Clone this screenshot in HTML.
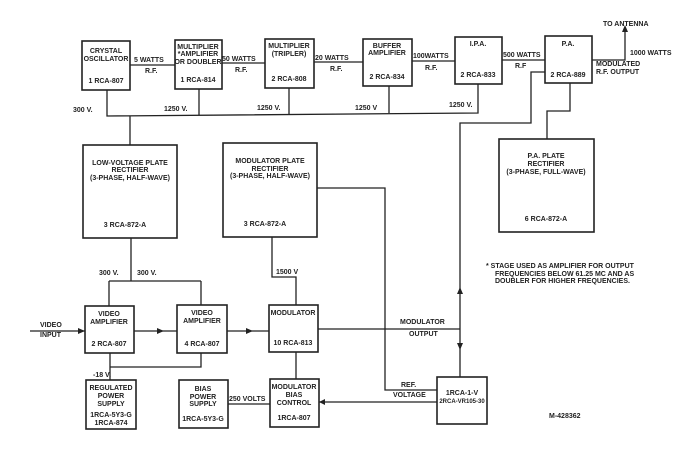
<!DOCTYPE html>
<html><head><meta charset="utf-8"><style>
html,body{margin:0;padding:0;background:#fff;}
svg{display:block;}
text{font-family:"Liberation Sans",sans-serif;font-weight:bold;font-size:7px;fill:#222;}
.b{fill:none;stroke:#222;stroke-width:1.6;}
.l{fill:none;stroke:#222;stroke-width:1.3;}
</style></head><body>
<svg width="700" height="454" viewBox="0 0 700 454" xmlns="http://www.w3.org/2000/svg">
<!-- top boxes -->
<rect class="b" x="82" y="41" width="48" height="49"/>
<rect class="b" x="175" y="40" width="47" height="49"/>
<rect class="b" x="265" y="39" width="49" height="49"/>
<rect class="b" x="363" y="39" width="49" height="47"/>
<rect class="b" x="455" y="37" width="47" height="47"/>
<rect class="b" x="545" y="36" width="47" height="47"/>
<g text-anchor="middle">
<text x="106" y="53">CRYSTAL</text><text x="106" y="61">OSCILLATOR</text><text x="106" y="83">1 RCA-807</text>
<text x="198" y="49">MULTIPLIER</text><text x="198" y="56">*AMPLIFIER</text><text x="198" y="64">OR DOUBLER</text><text x="198" y="82">1 RCA-814</text>
<text x="289" y="48">MULTIPLIER</text><text x="289" y="56">(TRIPLER)</text><text x="289" y="81">2 RCA-808</text>
<text x="387" y="48">BUFFER</text><text x="387" y="55">AMPLIFIER</text><text x="387" y="79">2 RCA-834</text>
<text x="478" y="46">I.P.A.</text><text x="478" y="77">2 RCA-833</text>
<text x="568" y="46">P.A.</text><text x="568" y="77">2 RCA-889</text>
</g>
<!-- RF links -->
<path class="l" d="M130 65H175M222 63H265M314 62H363M412 61H455M502 60H545M592 60H625V30"/>
<path d="M622 32L625 25L628 32Z" fill="#222"/>
<text x="134" y="62">5 WATTS</text><text x="145" y="73">R.F.</text>
<text x="222" y="61">50 WATTS</text><text x="235" y="72">R.F.</text>
<text x="315" y="60">20 WATTS</text><text x="330" y="71">R.F.</text>
<text x="413" y="58">100WATTS</text><text x="425" y="70">R.F.</text>
<text x="503" y="57">500 WATTS</text><text x="515" y="68">R.F</text>
<text x="603" y="26">TO ANTENNA</text>
<text x="630" y="55">1000 WATTS</text>
<text x="596" y="66">MODULATED</text><text x="596" y="74">R.F. OUTPUT</text>
<!-- bus -->
<path class="l" d="M107 90V116L478 113V84M199 89V115M289 88V114M389 86V113M130 116V145"/>
<text x="73" y="112">300 V.</text><text x="164" y="111">1250 V.</text><text x="257" y="110">1250 V.</text><text x="355" y="110">1250 V</text><text x="449" y="107">1250 V.</text>
<!-- rectifiers -->
<rect class="b" x="83" y="145" width="94" height="93"/>
<rect class="b" x="223" y="143" width="94" height="94"/>
<rect class="b" x="499" y="139" width="95" height="93"/>
<g text-anchor="middle">
<text x="130" y="165">LOW-VOLTAGE PLATE</text><text x="130" y="172">RECTIFIER</text><text x="130" y="180">(3-PHASE, HALF-WAVE)</text><text x="125" y="227">3 RCA-872-A</text>
<text x="270" y="163">MODULATOR PLATE</text><text x="270" y="171">RECTIFIER</text><text x="270" y="178">(3-PHASE, HALF-WAVE)</text><text x="265" y="226">3 RCA-872-A</text>
<text x="546" y="158">P.A. PLATE</text><text x="546" y="166">RECTIFIER</text><text x="546" y="174">(3-PHASE, FULL-WAVE)</text><text x="546" y="221">6 RCA-872-A</text>
</g>
<path class="l" d="M570 83V111H547V139M545 72H531V123H460V377M317 188H385V390H437"/>
<path d="M457 294L460 287L463 294Z M457 343L460 350L463 343Z" fill="#222"/>
<text x="486" y="268">* STAGE USED AS AMPLIFIER FOR OUTPUT</text>
<text x="495" y="276">FREQUENCIES BELOW 61.25 MC AND AS</text>
<text x="495" y="283">DOUBLER FOR HIGHER FREQUENCIES.</text>
<!-- 300V, 1500V -->
<path class="l" d="M131 238V281M109 281H201M109 281V306M201 281V305M272 237V277H296V305"/>
<text x="99" y="275">300 V.</text><text x="137" y="275">300 V.</text><text x="276" y="274">1500 V</text>
<!-- lower boxes -->
<rect class="b" x="85" y="306" width="49" height="47"/>
<rect class="b" x="177" y="305" width="50" height="48"/>
<rect class="b" x="269" y="305" width="49" height="47"/>
<rect class="b" x="86" y="380" width="50" height="49"/>
<rect class="b" x="179" y="380" width="49" height="48"/>
<rect class="b" x="270" y="379" width="49" height="48"/>
<rect class="b" x="437" y="377" width="50" height="47"/>
<g text-anchor="middle">
<text x="109" y="316">VIDEO</text><text x="109" y="324">AMPLIFIER</text><text x="109" y="346">2 RCA-807</text>
<text x="202" y="315">VIDEO</text><text x="202" y="323">AMPLIFIER</text><text x="202" y="346">4 RCA-807</text>
<text x="293" y="315">MODULATOR</text><text x="293" y="345">10 RCA-813</text>
<text x="111" y="390">REGULATED</text><text x="111" y="398">POWER</text><text x="111" y="406">SUPPLY</text><text x="111" y="417">1RCA-5Y3-G</text><text x="111" y="425">1RCA-874</text>
<text x="203" y="391">BIAS</text><text x="203" y="399">POWER</text><text x="203" y="406">SUPPLY</text><text x="203" y="421">1RCA-5Y3-G</text>
<text x="294" y="389">MODULATOR</text><text x="294" y="397">BIAS</text><text x="294" y="405">CONTROL</text><text x="294" y="420">1RCA-807</text>
<text x="462" y="395">1RCA-1-V</text><text x="462" y="403" style="font-size:6px">2RCA-VR105-30</text>
</g>
<path class="l" d="M30 331H85M134 331H177M227 331H269M318 329H460M110 353V380M110 367H201V353M296 352V379M228 404H270M437 402H319"/>
<path d="M78 328L85 331L78 334Z M157 328L164 331L157 334Z M246 328L253 331L246 334Z M325 399L319 402L325 405Z" fill="#222"/>
<text x="40" y="327">VIDEO</text><text x="40" y="337">INPUT</text>
<text x="93" y="377">-18 V.</text>
<text x="229" y="401">250 VOLTS</text>
<text x="400" y="324">MODULATOR</text><text x="409" y="336">OUTPUT</text>
<text x="401" y="387">REF.</text><text x="393" y="397">VOLTAGE</text>
<text x="549" y="418">M-428362</text>
</svg>
</body></html>
